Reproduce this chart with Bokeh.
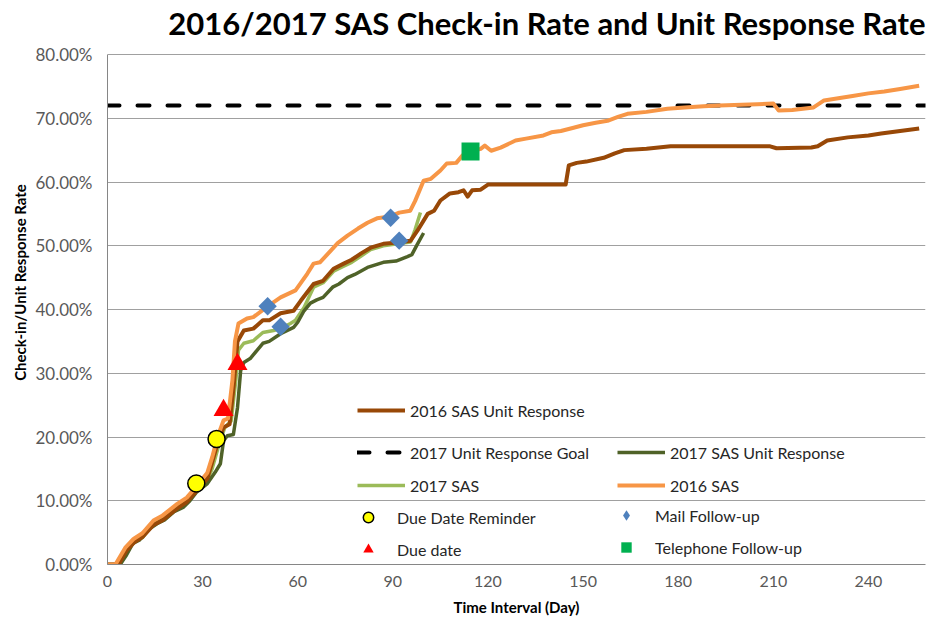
from math import pi
from bokeh.plotting import figure
from bokeh.models import Range1d, FixedTicker, PrintfTickFormatter, Legend, LegendItem, Label, Title
from bokeh.embed import file_html
from bokeh.resources import INLINE

# ---------------- data ----------------
x_ticks = [0, 30, 60, 90, 120, 150, 180, 210, 240]
y_ticks = [0, 10, 20, 30, 40, 50, 60, 70, 80]

sas2016_days = [0, 2.5, 5.7, 8.2, 11, 14.5, 17.4, 22, 25, 27.8, 31.5, 33, 34.7, 36.6, 38, 39.4, 40.2,
                41.3, 44, 46, 50.5, 54.6, 59.3, 63, 65, 67, 70, 72.6, 75.7, 79, 82, 85, 89.3, 92, 95.5,
                97, 99.7, 102, 105, 107, 110, 112, 114.5, 117.7, 119, 121, 124, 128.7, 132, 137.5, 140,
                143, 147, 150, 154, 157.7, 161, 164, 170, 176.6, 182, 188, 193, 200, 205, 210, 211.7,
                216, 222.7, 226, 230, 235, 240, 245, 250, 256]
sas2016_pct = [0, 0, 2.7, 4.0, 4.9, 6.9, 7.7, 9.5, 10.5, 12.1, 14.4, 16.8, 20.0, 22.6, 22.9, 28.9, 35.0,
               37.8, 38.6, 38.8, 40.5, 41.9, 43.0, 45.6, 47.2, 47.4, 49.0, 50.4, 51.6, 52.7, 53.6, 54.3,
               54.6, 55.2, 55.5, 57.0, 60.2, 60.5, 61.8, 62.9, 63.0, 64.2, 64.8, 65.2, 65.7, 64.9, 65.4,
               66.5, 66.8, 67.3, 67.8, 68.0, 68.5, 68.9, 69.3, 69.6, 70.2, 70.7, 71.0, 71.5, 71.7, 71.9,
               72.0, 72.1, 72.2, 72.3, 71.2, 71.3, 71.7, 72.8, 73.1, 73.5, 73.9, 74.2, 74.6, 75.1]

ur2016_days = [0, 3.5, 6, 8.5, 11, 14.5, 17.5, 22, 25, 28, 31.5, 33, 35, 36.6, 38.5, 39.8, 41, 43, 46,
               49, 51, 54.6, 58.7, 61, 65, 68, 71.3, 74.5, 77, 80, 83, 87, 91.5, 95.6, 97.8, 101, 103,
               105, 108, 110.7, 112.3, 113.6, 115, 117.7, 120, 144.5, 145.5, 148, 151, 156.5, 160, 163,
               170, 177.6, 209, 211, 222, 224, 227, 233.5, 240, 244, 250, 256]
ur2016_pct = [0, 0, 2.2, 3.5, 4.3, 6.2, 7.0, 8.8, 9.8, 11.5, 13.5, 16.0, 19.5, 21.5, 22.0, 28.0, 35.0,
              36.7, 37.0, 38.3, 38.3, 39.4, 39.8, 41.4, 44.0, 44.5, 46.4, 47.2, 47.8, 48.8, 49.7, 50.3,
              50.5, 50.8, 52.4, 55.0, 55.5, 57.1, 58.2, 58.4, 58.7, 57.7, 58.7, 58.8, 59.6, 59.6, 62.6,
              63.0, 63.2, 63.8, 64.5, 65.0, 65.2, 65.6, 65.6, 65.3, 65.4, 65.6, 66.5, 67.0, 67.3, 67.6,
              68.0, 68.4]

sas2017_days = [0, 4, 6, 8.5, 11, 14.5, 17.5, 22, 25, 28, 31.5, 33, 35, 37, 39, 40.5, 41.3, 43, 46, 49,
                52.4, 54.6, 57.7, 59.3, 62, 65, 68, 71.3, 74.5, 77, 80, 83, 87, 91.5, 95.6, 97, 98.7]
sas2017_pct = [0, 0, 2.0, 3.6, 4.2, 6.4, 7.2, 9.0, 10.0, 11.8, 13.3, 15.0, 18.5, 21.5, 22.5, 29.0, 33.6,
               34.7, 35.1, 36.4, 36.7, 37.0, 37.8, 38.3, 40.3, 43.5, 44.2, 46.0, 46.8, 47.4, 48.4, 49.4,
               50.0, 50.3, 50.6, 52.5, 55.2]

ur2017_days = [0, 4, 6, 8, 10, 13, 15.6, 18, 21, 24, 26, 28, 31.5, 34, 35.6, 36.6, 37.8, 39.7, 41, 42,
               43, 45, 49, 51, 54.6, 58.7, 60, 62, 64, 66, 68, 71, 73, 75.7, 78, 82, 87, 91, 94.6, 96,
               97.8, 99.7]
ur2017_pct = [0, 0, 1.5, 3.3, 3.8, 5.5, 6.4, 7.0, 8.3, 9.0, 10.0, 11.3, 12.7, 14.5, 15.8, 19.4, 20.2,
              20.4, 24.6, 30.4, 31.7, 32.3, 34.7, 35.0, 36.2, 37.2, 38.0, 39.8, 41.0, 41.5, 41.9, 43.5,
              44.0, 45.0, 45.5, 46.6, 47.4, 47.6, 48.3, 48.6, 50.3, 52.0]

goal_days = [0, 258]
goal_pct = [72, 72]

reminder_days = [28, 34.4]
reminder_pct = [12.7, 19.7]
due_days = [36.6, 41]
due_pct = [24.2, 31.4]
mail_days = [50.5, 54.6, 89.3, 92]
mail_pct = [40.5, 37.3, 54.4, 50.8]
phone_days = [114.5]
phone_pct = [64.8]

title_text = "2016/2017 SAS Check-in Rate and Unit Response Rate"
y_label = "Check-in/Unit Response Rate"
x_label = "Time Interval (Day)"

# ---------------- figure ----------------
FONT = "Lato"
# the frame reaches the top of the canvas; the value axis itself is bounded to 0-80 %
p = figure(width=928, height=626, output_backend="svg", toolbar_location=None,
           x_range=Range1d(0, 258), y_range=Range1d(0, 80 * 564 / 510),
           min_border_left=107, min_border_right=3, min_border_top=0, min_border_bottom=62)
p.outline_line_color = None
p.background_fill_color = "white"
p.border_fill_color = "white"

p.add_layout(Label(x=818, y=542, x_units="screen", y_units="screen", text=title_text,
                   text_align="right", text_baseline="alphabetic", text_font=FONT,
                   text_font_size="31px", text_font_style="bold", text_color="black"))

p.xgrid.visible = False
p.ygrid.grid_line_color = "#A0A0A0"
p.ygrid.grid_line_width = 1

p.xaxis.ticker = FixedTicker(ticks=x_ticks)
p.yaxis.ticker = FixedTicker(ticks=y_ticks)
p.yaxis.bounds = (0, 80)
p.yaxis.formatter = PrintfTickFormatter(format="%.2f%%")
for ax in (p.xaxis, p.yaxis):
    ax.major_tick_line_color = None
    ax.minor_tick_line_color = None
    ax.axis_line_color = "#868686"
    ax.major_label_text_font = FONT
    ax.major_label_text_font_size = "17px"
    ax.major_label_text_color = "#595959"
    ax.axis_label_text_font = FONT
    ax.axis_label_text_font_size = "15px"
    ax.axis_label_text_font_style = "bold"
    ax.axis_label_text_color = "black"
p.xaxis.major_label_text_font_size = "16px"
p.xaxis.axis_label = x_label
p.xaxis.major_label_standoff = 5
p.xaxis.axis_label_standoff = 8
p.yaxis.major_label_standoff = 9

# y-axis title, centred lower than the frame centre as in the original
p.add_layout(Title(text=y_label, align="center", offset=-48, text_font=FONT, text_font_size="15px",
                   text_font_style="bold", text_color="black", standoff=8), "left")

# ---------------- series ----------------
r_goal = p.line(goal_days, goal_pct, line_color="black", line_width=4, line_dash="12 18", line_cap="round")
r_lg = p.line(sas2017_days, sas2017_pct, line_color="#9BBB59", line_width=3.5, line_join="round")
r_dg = p.line(ur2017_days, ur2017_pct, line_color="#4F6228", line_width=3.5, line_join="round")
r_br = p.line(ur2016_days, ur2016_pct, line_color="#984807", line_width=4, line_join="round")
r_or = p.line(sas2016_days, sas2016_pct, line_color="#F79646", line_width=4, line_join="round")

r_rem = p.scatter(reminder_days, reminder_pct, marker="circle", size=17, fill_color="#FFFF00",
                  line_color="black", line_width=1.5)
r_due = p.scatter(due_days, due_pct, marker="triangle", size=20, fill_color="#FF0000", line_color=None)
# diamond glyph (shown in legend) under a rotated square of the same colour (true diamond shape)
r_mail = p.scatter(mail_days, mail_pct, marker="diamond", size=17, fill_color="#4F81BD", line_color=None)
p.scatter(mail_days, mail_pct, marker="square", angle=pi / 4, size=13, fill_color="#4F81BD", line_color=None)
r_phone = p.scatter(phone_days, phone_pct, marker="square", size=18, fill_color="#00B050", line_color=None)

# ---------------- legends ----------------
def make_legend(items, loc, gw, gh, standoff, spacing):
    lg = Legend(items=[LegendItem(label=t, renderers=[r]) for t, r in items], location=loc,
                orientation="vertical", glyph_width=gw, glyph_height=gh, label_height=gh,
                label_standoff=standoff, spacing=spacing, padding=0, margin=0,
                border_line_alpha=0, background_fill_alpha=0,
                label_text_font=FONT, label_text_font_size="16px", label_text_color="#262626")
    p.add_layout(lg)

make_legend([("2016 SAS Unit Response", r_br)], (250, 144), 48, 20, 5, 13)
make_legend([("2017 Unit Response Goal", r_goal), ("2017 SAS", r_lg)], (250, 69), 48, 20, 5, 13)
make_legend([("2017 SAS Unit Response", r_dg), ("2016 SAS", r_or)], (510, 69), 48, 20, 5, 13)
make_legend([("Due Date Reminder", r_rem), ("Due date", r_due)], (248, 2), 26, 26, 16, 6)
make_legend([("Mail Follow-up", r_mail), ("Telephone Follow-up", r_phone)], (506, 4), 26, 26, 16, 6)

open("out.html", "w").write(file_html(p, INLINE))
